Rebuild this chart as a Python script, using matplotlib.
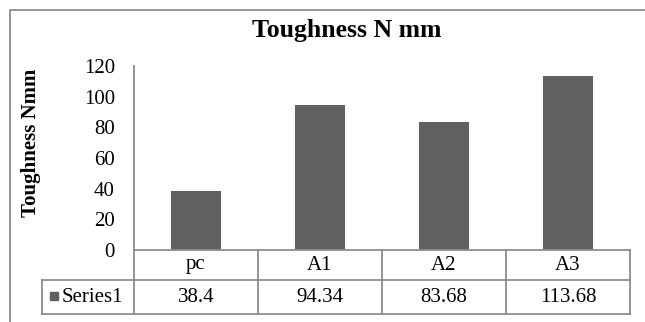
"""Toughness bar chart with Excel-style data table underneath."""

import matplotlib
matplotlib.use("Agg")
import matplotlib.pyplot as plt
from matplotlib.lines import Line2D
from matplotlib.patches import Rectangle

# Data
categories = ["pc", "A1", "A2", "A3"]
series_name = "Series1"
toughness = [38.4, 94.34, 83.68, 113.68]
value_labels = ["38.4", "94.34", "83.68", "113.68"]
yticks = [0, 20, 40, 60, 80, 100, 120]

BAR_COLOR = "#606060"
LINE_COLOR = "#8c8c8c"

plt.rcParams["font.family"] = ["Liberation Serif", "DejaVu Serif"]

fig = plt.figure(figsize=(6.45, 3.22), dpi=100)
ax = fig.add_axes([134 / 645, 72 / 322, 496 / 645, 184 / 322])

x = list(range(len(categories)))
ax.bar(x, toughness, width=0.4, color=BAR_COLOR, zorder=2)

ax.set_xlim(-0.5, len(categories) - 0.5)
ax.set_ylim(0, 120)
ax.set_yticks(yticks)
ax.set_yticklabels([str(t) for t in yticks], fontsize=15)
ax.tick_params(axis="y", length=0, pad=13.7)
ax.set_xticks([])

for side in ["top", "right", "bottom"]:
    ax.spines[side].set_visible(False)
ax.spines["left"].set_color(LINE_COLOR)
ax.spines["left"].set_linewidth(1.3)

ax.set_ylabel("Toughness Nmm", fontsize=15, fontweight="bold")
ax.yaxis.set_label_coords(-0.187, 0.584)

fig.text(347 / 645, 1 - 30 / 322, "Toughness N mm", fontsize=18.5,
         fontweight="bold", ha="center", va="center")

# Data table below the axis (x in data units, y in axes fraction)
trans = ax.get_xaxis_transform()
r1 = -30 / 184   # bottom of header row
r2 = -64 / 184   # bottom of value row
x0 = -0.5
x1 = len(categories) - 0.5
xl = -0.5 - 92 / 124  # left edge of row-label cell


def tline(xs, ys):
    ax.add_line(Line2D(xs, ys, transform=trans, color=LINE_COLOR,
                       lw=1.3, clip_on=False, zorder=3))


tline([x0, x1], [0, 0])
tline([xl, x1], [r1, r1])
tline([xl, x1], [r2, r2])
tline([xl, xl], [r1, r2])
for i in range(len(categories) + 1):
    tline([i - 0.5, i - 0.5], [0, r2])

for i, (cat, val) in enumerate(zip(categories, value_labels)):
    ax.text(i, r1 / 2, cat, transform=trans, ha="center", va="center",
            fontsize=15, clip_on=False)
    ax.text(i, (r1 + r2) / 2, val, transform=trans, ha="center",
            va="center", fontsize=15, clip_on=False)

# legend key square in the row-label cell
ax.add_patch(Rectangle((-0.5 - 84 / 124, -50 / 184), 7.5 / 124, 8 / 184,
                       transform=trans, color=BAR_COLOR, clip_on=False))
ax.text(-0.5 - 72 / 124, (r1 + r2) / 2, series_name, transform=trans,
        ha="left", va="center", fontsize=15, clip_on=False)

# Chart border (left and top edges only visible)
fig.add_artist(Line2D([10 / 645, 10 / 645, 1.0], [0.0, 1 - 10 / 322, 1 - 10 / 322],
                      transform=fig.transFigure, color=LINE_COLOR, lw=1.3))

fig.savefig("out.png", dpi=100)
